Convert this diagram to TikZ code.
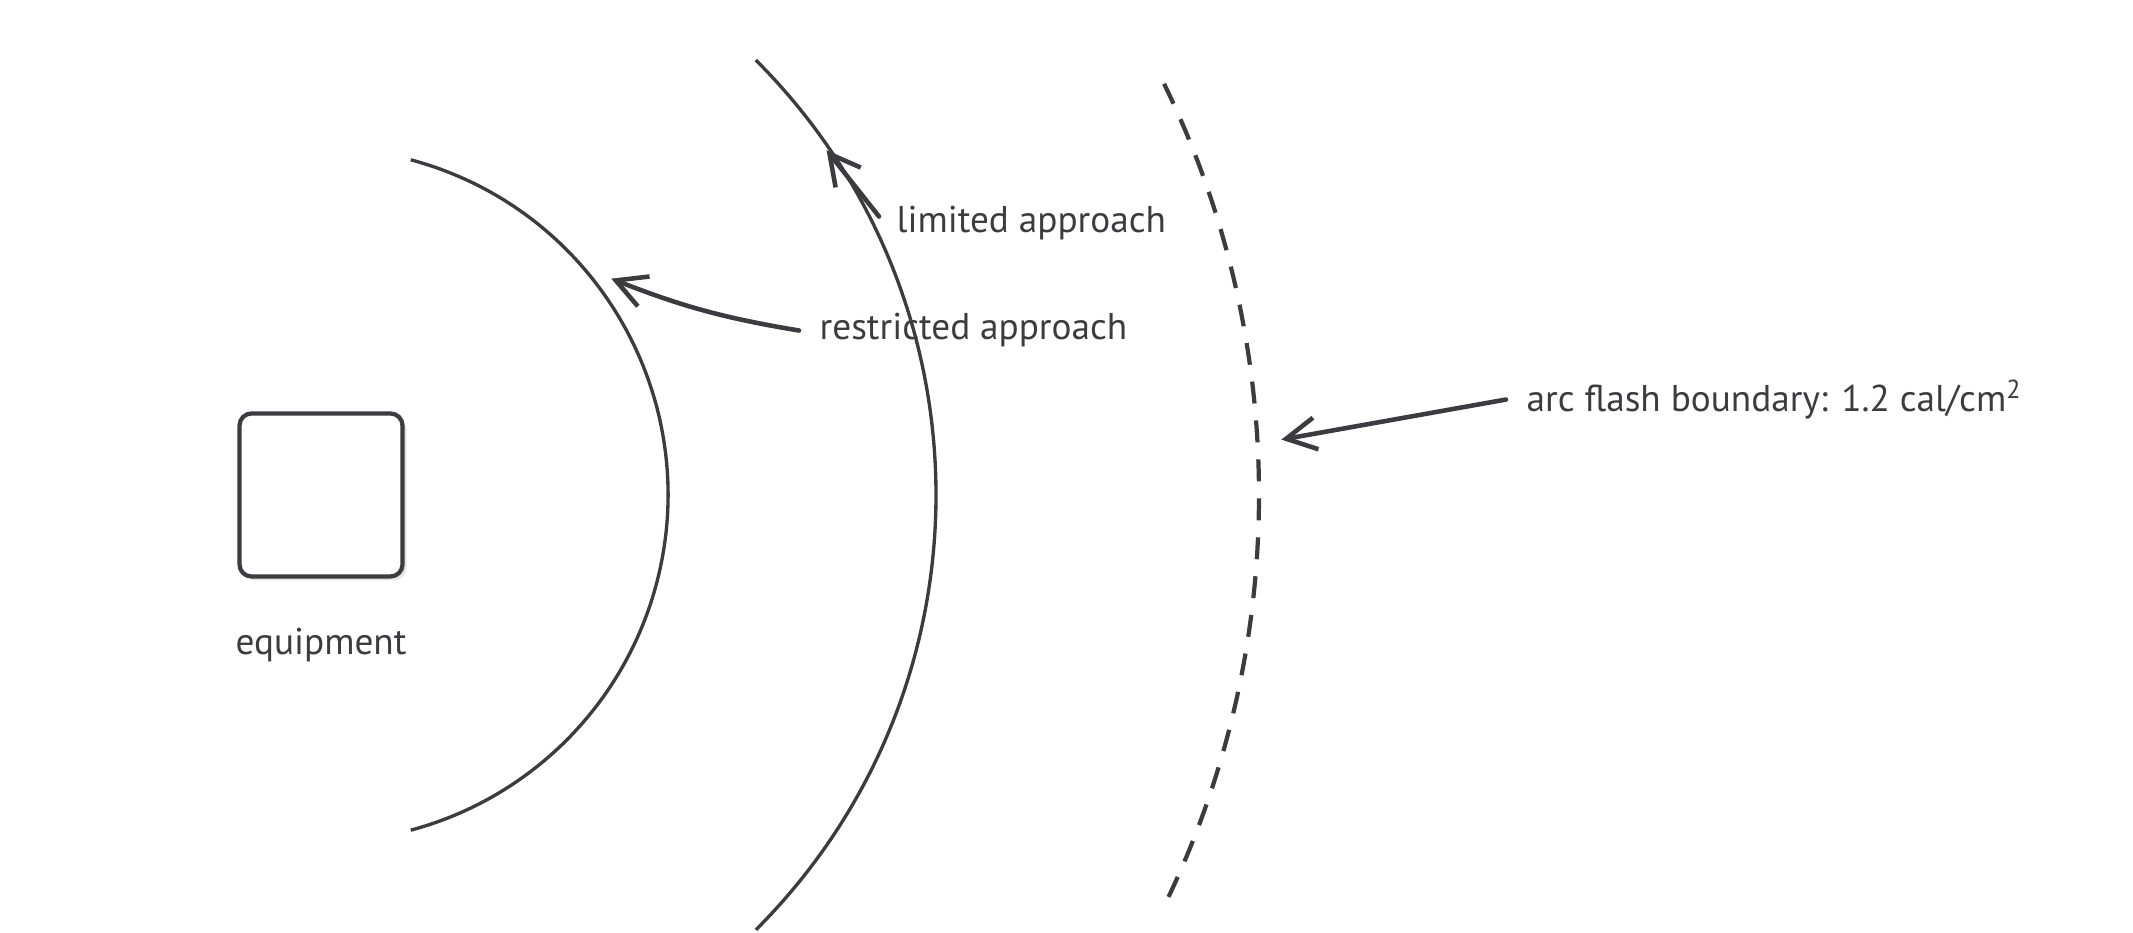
\documentclass[tikz,border=0pt]{standalone}
\usepackage{fontspec}
\setmainfont{PT Sans}
\usetikzlibrary{arrows.meta,shadows}
\definecolor{ink}{RGB}{60,60,64}
\tikzstyle{equipbox}=[draw=ink, fill=white, line width=1.2pt, rounded corners=1.2mm,
	minimum width=1.63cm, minimum height=1.63cm,
	drop shadow={shadow xshift=0.4mm, shadow yshift=-0.4mm, opacity=0.2}]
\tikzstyle{texto}=[text=ink, font=\fontsize{10.6}{12}\selectfont, inner sep=2mm]
\tikzstyle{boundary}=[draw=ink, line width=0.95pt]
\tikzstyle{line}=[draw=ink, line width=1.3pt, line cap=round,
	-{Straight Barb[length=3mm, width=3.2mm, line width=1.3pt]}]

\begin{document}
\begin{tikzpicture}
	\useasboundingbox (0,0) rectangle (21.33,9.33);

	\path (3.21,4.38) node (equip)[equipbox]{};
	\path (3.21,2.78) node (equipTxt)[texto, anchor=base]{equipment};

	% Boundaries around the equipment
	\path [boundary] (equip.center) ++(75:3.47) arc[start angle=75, end angle=-75, radius=3.47];
	\path [boundary] (equip.center) ++(45:6.15) arc[start angle=45, end angle=-45, radius=6.15];
	\path [boundary, line width=1.2pt, dash pattern=on 0.22cm off 0.17cm] (equip.center) ++(26:9.38)
		arc[start angle=26, end angle=-26, radius=9.38];

	% Labels
	\path (7.99,5.93) node (restrictTxt)[texto, anchor=base west]{restricted approach};
	\path (8.76,7.00) node (limitTxt)[texto, anchor=base west]{limited approach};
	\path (15.06,5.21) node (flashTxt)[texto, anchor=base west]{arc flash boundary: 1.2 cal/cm\textsuperscript{2}};

	% Arrow tips on the boundaries
	\path (equip.center) ++(36.7:3.62) coordinate (restrictTip);
	\path (equip.center) ++(34.3:6.12) coordinate (limitTip);
	\path (equip.center) ++(3.3:9.62) coordinate (flashTip);

	% Draw arrows between labels and boundaries
	\path [line] (restrictTxt.west) to[bend left=6] (restrictTip);
	\path [line] ([shift={(0.03,0.07)}]limitTxt.west) -- (limitTip);
	\path [line] (flashTxt.west) -- (flashTip);

\end{tikzpicture}
\end{document}
